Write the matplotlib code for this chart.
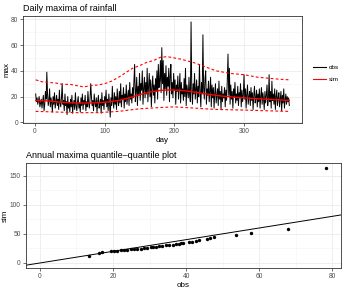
import numpy as np
import matplotlib
matplotlib.use("Agg")
import matplotlib.pyplot as plt
from matplotlib.ticker import MultipleLocator
from matplotlib.lines import Line2D

plt.rcParams['font.family'] = ['Liberation Sans', 'DejaVu Sans']

# daily maxima (observed), day 1..365
obs_daily = [
    22, 16, 19, 14, 17, 20, 12, 15, 18, 11,
    16, 21, 9, 14, 24, 18, 39, 22, 13, 17,
    26, 12, 19, 15, 8, 20, 14, 23, 11, 16,
    21, 13, 18, 10, 25, 15, 12, 19, 30, 14,
    17, 9, 22, 13, 16, 6, 20, 11, 15, 8,
    18, 12, 21, 7, 14, 17, 10, 23, 13, 9,
    16, 20, 11, 15, 8, 19, 13, 22, 10, 17,
    14, 21, 9, 16, 12, 24, 15, 11, 18, 30,
    20, 13, 17, 9, 22, 15, 12, 19, 8, 16,
    21, 11, 14, 18, 7, 23, 13, 17, 10, 20,
    15, 25, 12, 18, 9, 22, 14, 4, 19, 13,
    28, 16, 11, 23, 14, 20, 10, 26, 17, 13,
    24, 15, 30, 12, 21, 18, 27, 11, 22, 16,
    29, 14, 20, 25, 13, 31, 18, 22, 15, 27,
    19, 33, 45, 16, 24, 35, 13, 28, 21, 38,
    17, 30, 25, 40, 14, 26, 35, 19, 31, 22,
    42, 16, 28, 38, 20, 33, 12, 27, 36, 21,
    29, 15, 34, 24, 40, 18, 45, 27, 32, 48,
    23, 58, 30, 48, 17, 38, 26, 44, 21, 35,
    28, 42, 16, 36, 45, 22, 31, 19, 38, 25,
    33, 14, 29, 24, 36, 18, 27, 38, 15, 31,
    22, 26, 17, 34, 20, 42, 13, 29, 24, 19,
    35, 21, 16, 78, 26, 14, 30, 22, 38, 18,
    25, 33, 15, 28, 20, 45, 24, 12, 31, 22,
    68, 27, 18, 34, 40, 14, 26, 21, 32, 16,
    24, 35, 12, 29, 19, 27, 11, 23, 30, 15,
    21, 26, 13, 32, 18, 24, 10, 28, 16, 22,
    19, 27, 12, 25, 17, 33, 53, 21, 42, 14,
    29, 18, 24, 11, 26, 20, 31, 15, 22, 17,
    28, 13, 23, 19, 30, 12, 25, 16, 21, 37,
    18, 26, 11, 22, 29, 14, 20, 24, 13, 27,
    17, 23, 10, 21, 28, 15, 19, 25, 12, 22,
    16, 26, 11, 20, 27, 14, 23, 18, 10, 24,
    15, 21, 29, 13, 19, 37, 16, 24, 11, 32,
    17, 22, 14, 26, 10, 20, 25, 13, 19, 23,
    12, 18, 24, 9, 21, 15, 26, 11, 17, 22,
    14, 20, 16, 19, 13,
]
days = np.arange(1, len(obs_daily) + 1)

# simulated median
sim_med_day = [1, 15, 30, 45, 60, 75, 90, 105, 120, 135, 150, 165, 180,
               195, 210, 225, 240, 255, 270, 285, 300, 315, 330, 345, 365]
sim_med = [17, 16.8, 16, 15.3, 15, 15, 15.2, 15.8, 17, 19, 21.5, 23.5, 24.8,
           25.2, 24.8, 23.8, 22.5, 21.3, 20.3, 19.6, 19, 18.4, 18, 17.6, 17]

# simulated upper / lower bands
sim_hi_day = [1, 10, 20, 30, 40, 50, 60, 70, 80, 90, 100, 110, 120, 130, 140,
              150, 160, 170, 180, 190, 200, 210, 220, 230, 240, 250, 260, 270,
              280, 290, 300, 310, 320, 330, 340, 350, 365]
sim_hi = [33, 31.5, 31, 30.5, 29.5, 29.5, 28.5, 27.5, 28.5, 29, 30, 32, 35,
          38.5, 42, 44, 46.5, 48, 50.5, 51, 50, 49, 47.5, 46, 44, 42, 40,
          39, 38, 37.5, 37, 36, 35, 34.5, 34, 33.5, 33]
sim_lo_day = [1, 30, 60, 90, 120, 150, 180, 200, 230, 260, 300, 330, 365]
sim_lo = [8.5, 8, 7.5, 7.5, 8.5, 10.5, 11.5, 12, 11, 10, 9.5, 9, 8.5]

# annual maxima quantile-quantile
qq_obs = [13.4, 16.2, 16.9, 19.4, 20.3, 21.2, 22.1, 23.0, 23.9, 24.8, 25.8,
          26.7, 27.6, 28.5, 29.4, 30.3, 31.0, 31.7, 32.6, 33.5, 34.4, 35.3,
          36.3, 37.2, 38.1, 38.6, 39.1, 40.8, 41.7, 42.6, 43.6, 45.6, 46.5,
          47.7, 53.6, 57.9, 68.0, 78.4]
qq_sim = [11.5, 17.4, 18.5, 20.2, 20.8, 21.3, 21.9, 22.5, 23.0, 23.6, 24.2,
          24.2, 24.7, 25.3, 26.4, 27.0, 27.5, 28.0, 28.7, 29.8, 30.3, 30.9,
          31.5, 32.0, 32.6, 33.7, 34.8, 35.4, 36.0, 37.0, 38.8, 41.0, 42.0,
          43.8, 48.3, 52.2, 58.4, 163.0]

W, H = 345, 291
fig = plt.figure(figsize=(W / 100, H / 100), dpi=100)
fig.patch.set_facecolor('white')


def style_axes(ax):
    for s in ax.spines.values():
        s.set_color('#333333')
        s.set_linewidth(0.6)
    ax.grid(which='major', color='#ebebeb', linewidth=0.6)
    ax.grid(which='minor', color='#f4f4f4', linewidth=0.4)
    ax.set_axisbelow(True)
    ax.tick_params(which='major', length=2, width=0.5, color='#333333',
                   labelsize=4.8, labelcolor='#4d4d4d', pad=1.5)
    ax.tick_params(which='minor', length=0)


# top panel
ax1 = fig.add_axes([23 / W, 1 - 122.7 / H, (302 - 23) / W, (122.7 - 16) / H])
ax1.plot(days, obs_daily, color='black', linewidth=0.7)
ax1.plot(sim_med_day, sim_med, color='red', linewidth=1.0)
ax1.plot(sim_hi_day, sim_hi, color='red', linewidth=0.8, linestyle=(0, (2.5, 2)))
ax1.plot(sim_lo_day, sim_lo, color='red', linewidth=0.8, linestyle=(0, (2.5, 2)))
ax1.set_xlim(-17.2, 383.2)
ax1.set_ylim(-0.3, 82.6)
ax1.xaxis.set_major_locator(MultipleLocator(100))
ax1.xaxis.set_minor_locator(MultipleLocator(50))
ax1.yaxis.set_major_locator(MultipleLocator(20))
ax1.yaxis.set_minor_locator(MultipleLocator(10))
style_axes(ax1)
ax1.set_xlabel('day', fontsize=5.8, labelpad=1.5)
ax1.set_ylabel('max', fontsize=5.8, labelpad=0.5)
ax1.set_title('Daily maxima of rainfall', fontsize=6.5, loc='left', pad=3.5)

handles = [Line2D([], [], color='black', linewidth=0.8),
           Line2D([], [], color='red', linewidth=0.8)]
fig.legend(handles, ['obs', 'sim'], loc='center left',
           bbox_to_anchor=(307 / W, 1 - 73.5 / H), frameon=False,
           fontsize=4.6, handlelength=2.0, handletextpad=0.5,
           labelspacing=1.0)

# bottom panel
ax2 = fig.add_axes([25.7 / W, 1 - 267.7 / H, (341 - 25.7) / W, (267.7 - 163.3) / H])
ax2.scatter(qq_obs, qq_sim, s=6, color='black', linewidths=0, zorder=3)
ax2.axline((0, 0), slope=1, color='black', linewidth=0.7)
ax2.set_xlim(-3.9, 82.4)
ax2.set_ylim(-8.1, 171)
ax2.xaxis.set_major_locator(MultipleLocator(20))
ax2.xaxis.set_minor_locator(MultipleLocator(10))
ax2.yaxis.set_major_locator(MultipleLocator(50))
ax2.yaxis.set_minor_locator(MultipleLocator(25))
style_axes(ax2)
ax2.set_xlabel('obs', fontsize=5.8, labelpad=1.5)
ax2.set_ylabel('sim', fontsize=5.8, labelpad=0.5)
ax2.set_title('Annual maxima quantile\u2013quantile plot', fontsize=6.5,
              loc='left', pad=4)

fig.savefig('out.png', dpi=100)
